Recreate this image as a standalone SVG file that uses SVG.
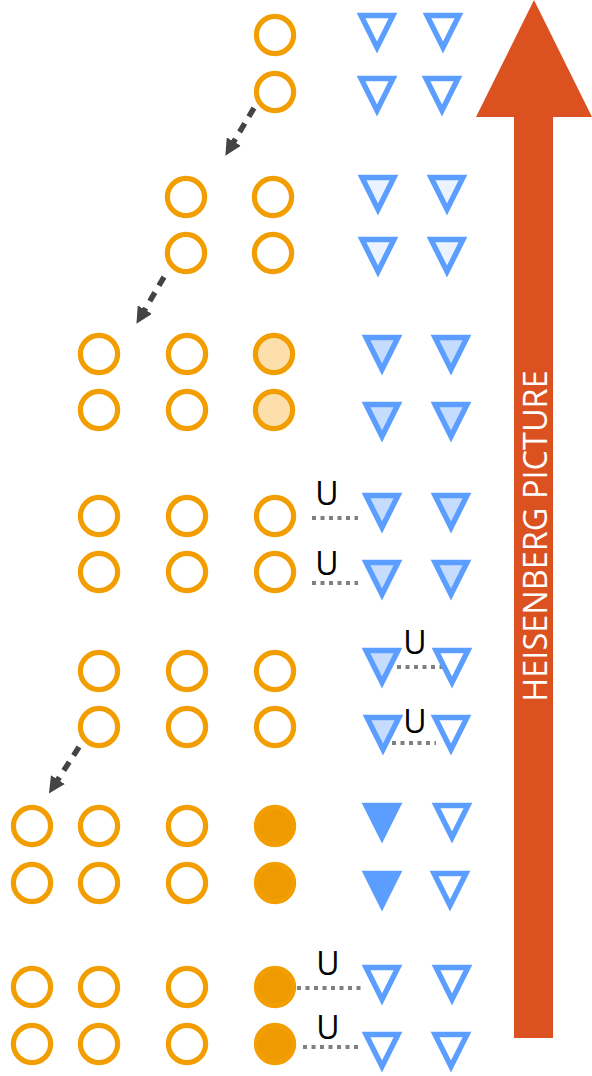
<svg xmlns="http://www.w3.org/2000/svg" width="592" height="1076" viewBox="0 0 592 1076">
<style>
.c{fill:#fff;stroke:#f29d00;stroke-width:5.2}
.cl{fill:#fcdfaa;stroke:#f29d00;stroke-width:5.2}
.cs{fill:#ef9a00;stroke:#f29d00;stroke-width:5.2}
.t{fill:#fff;stroke:#5c9eff;stroke-width:5.4;stroke-linejoin:miter}
.t2{fill:#eaf3ff;stroke:#5c9eff;stroke-width:5.4;stroke-linejoin:miter}
.tl{fill:#c6dcff;stroke:#5c9eff;stroke-width:5.4;stroke-linejoin:miter}
.ts{fill:#5c9eff;stroke:#5c9eff;stroke-width:5.4;stroke-linejoin:miter}
.d{stroke:#808080;stroke-width:4;stroke-dasharray:4 4.5;fill:none}
.a{stroke:#444;stroke-width:5.5;stroke-dasharray:10 8;fill:none}
.u{font-family:"Open Sans","Noto Sans",sans-serif;font-size:32px;fill:#000;text-anchor:middle}
</style>
<defs>
<marker id="ah" viewBox="0 0 10 10" refX="1" refY="5" markerWidth="3" markerHeight="3" orient="auto" markerUnits="strokeWidth">
<path d="M0,0 L10,5 L0,10 Z" fill="#444"/>
</marker>
<path id="tri" d="M-16,0 L16,0 L0,32 Z"/>
</defs>

<g id="heisenberg-arrow">
<polygon points="534,0 592,117 553,117 553,1038 514,1038 514,117 476,117" fill="#db5220"/>
<text transform="translate(547,536) rotate(-90)" text-anchor="middle" font-family="Open Sans, Noto Sans, sans-serif" font-size="32.5" fill="#fff">HEISENBERG PICTURE</text>
</g>

<g id="connectors">
<path class="a" d="M254,108 L233,143" marker-end="url(#ah)"/>
<path class="a" d="M164,277 L144,311" marker-end="url(#ah)"/>
<path class="a" d="M79,747 L57,781" marker-end="url(#ah)"/>
<line class="d" x1="312" y1="518" x2="358" y2="518"/>
<line class="d" x1="312" y1="583" x2="358" y2="583"/>
<line class="d" x1="397" y1="667" x2="442" y2="667"/>
<line class="d" x1="392" y1="743" x2="436" y2="743"/>
<line class="d" x1="297" y1="988" x2="361" y2="988"/>
<line class="d" x1="303" y1="1047" x2="358" y2="1047"/>
<text class="u" x="327" y="505">U</text>
<text class="u" x="327" y="575">U</text>
<text class="u" x="415" y="654">U</text>
<text class="u" x="415" y="733">U</text>
<text class="u" x="328" y="975">U</text>
<text class="u" x="328" y="1039">U</text>
</g>

<g id="step1">
<circle class="c" cx="275" cy="35" r="18.6"/>
<circle class="c" cx="275" cy="92" r="18.6"/>
<use href="#tri" class="t" x="377" y="15.5"/>
<use href="#tri" class="t" x="443" y="15.5"/>
<use href="#tri" class="t" x="377" y="78.5"/>
<use href="#tri" class="t" x="442" y="78.5"/>
</g>

<g id="step2">
<circle class="c" cx="186" cy="197" r="18.6"/>
<circle class="c" cx="273" cy="197" r="18.6"/>
<circle class="c" cx="186" cy="253" r="18.6"/>
<circle class="c" cx="273" cy="253" r="18.6"/>
<use href="#tri" class="t2" x="378" y="177.5"/>
<use href="#tri" class="t2" x="447" y="177.5"/>
<use href="#tri" class="t2" x="378" y="239.5"/>
<use href="#tri" class="t2" x="447" y="239.5"/>
</g>

<g id="step3">
<circle class="c" cx="99" cy="354" r="18.6"/>
<circle class="c" cx="187" cy="354" r="18.6"/>
<circle class="cl" cx="274" cy="354" r="18.6"/>
<circle class="c" cx="99" cy="410" r="18.6"/>
<circle class="c" cx="187" cy="410" r="18.6"/>
<circle class="cl" cx="274" cy="410" r="18.6"/>
<use href="#tri" class="tl" x="382" y="337.5"/>
<use href="#tri" class="tl" x="451" y="337.5"/>
<use href="#tri" class="tl" x="382" y="404.5"/>
<use href="#tri" class="tl" x="451" y="404.5"/>
</g>

<g id="step4">
<circle class="c" cx="99" cy="516" r="18.6"/>
<circle class="c" cx="187" cy="516" r="18.6"/>
<circle class="c" cx="275" cy="516" r="18.6"/>
<circle class="c" cx="99" cy="572" r="18.6"/>
<circle class="c" cx="187" cy="572" r="18.6"/>
<circle class="c" cx="275" cy="572" r="18.6"/>
<use href="#tri" class="tl" x="382" y="495.5"/>
<use href="#tri" class="tl" x="451" y="495.5"/>
<use href="#tri" class="tl" x="382" y="562.5"/>
<use href="#tri" class="tl" x="451" y="562.5"/>
</g>

<g id="step5">
<circle class="c" cx="99" cy="671" r="18.6"/>
<circle class="c" cx="187" cy="671" r="18.6"/>
<circle class="c" cx="275" cy="671" r="18.6"/>
<circle class="c" cx="99" cy="727" r="18.6"/>
<circle class="c" cx="187" cy="727" r="18.6"/>
<circle class="c" cx="275" cy="727" r="18.6"/>
<use href="#tri" class="tl" x="382" y="650.5"/>
<use href="#tri" class="t" x="452" y="650.5"/>
<use href="#tri" class="tl" x="383" y="717.5"/>
<use href="#tri" class="t" x="451" y="717.5"/>
</g>

<g id="step6">
<circle class="c" cx="32" cy="826" r="18.6"/>
<circle class="c" cx="99" cy="826" r="18.6"/>
<circle class="c" cx="187" cy="826" r="18.6"/>
<circle class="cs" cx="275" cy="826" r="18.6"/>
<circle class="c" cx="32" cy="883" r="18.6"/>
<circle class="c" cx="99" cy="883" r="18.6"/>
<circle class="c" cx="187" cy="883" r="18.6"/>
<circle class="cs" cx="275" cy="883" r="18.6"/>
<use href="#tri" class="ts" x="382" y="805.5"/>
<use href="#tri" class="t" x="452" y="805.5"/>
<use href="#tri" class="ts" x="382" y="873.5"/>
<use href="#tri" class="t" x="450" y="873.5"/>
</g>

<g id="step7">
<circle class="c" cx="32" cy="987" r="18.6"/>
<circle class="c" cx="99" cy="987" r="18.6"/>
<circle class="c" cx="187" cy="987" r="18.6"/>
<circle class="cs" cx="275" cy="987" r="18.6"/>
<circle class="c" cx="32" cy="1044" r="18.6"/>
<circle class="c" cx="99" cy="1044" r="18.6"/>
<circle class="c" cx="187" cy="1044" r="18.6"/>
<circle class="cs" cx="275" cy="1044" r="18.6"/>
<use href="#tri" class="t" x="382" y="967.5"/>
<use href="#tri" class="t" x="452" y="967.5"/>
<use href="#tri" class="t" x="382" y="1034.5"/>
<use href="#tri" class="t" x="451" y="1034.5"/>
</g>
</svg>
